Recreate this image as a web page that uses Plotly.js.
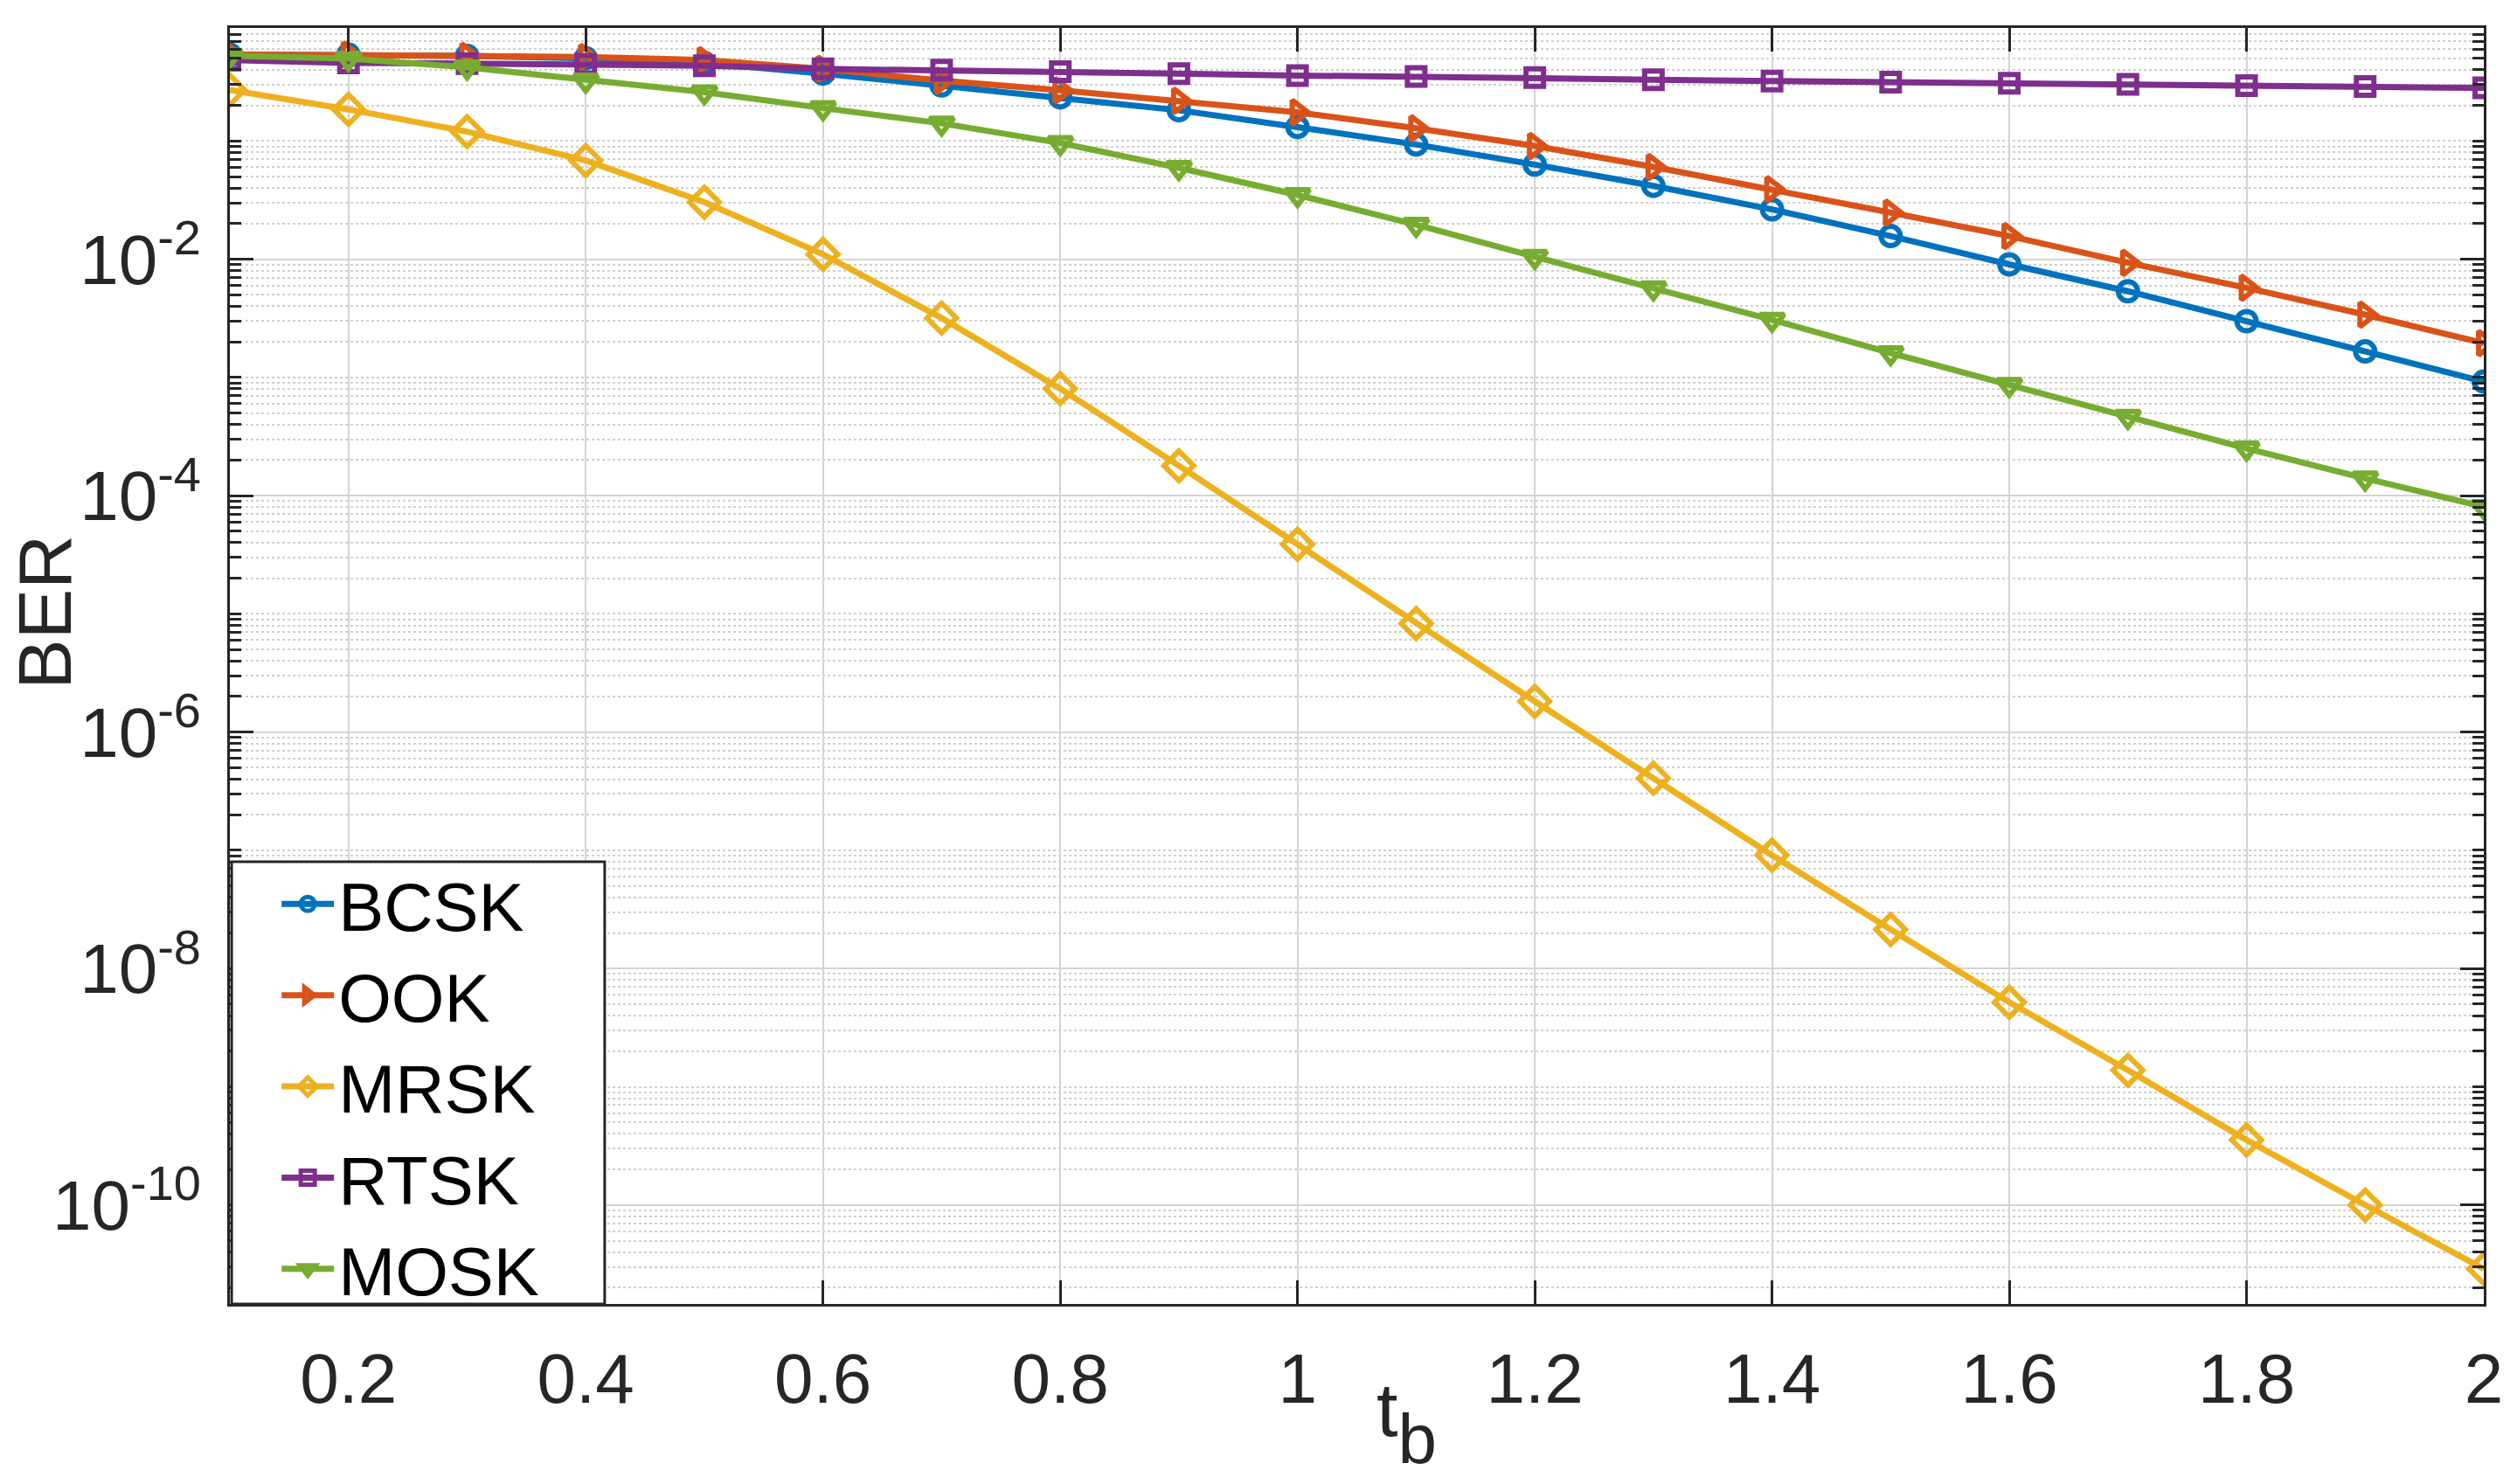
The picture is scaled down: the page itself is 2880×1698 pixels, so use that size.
<!DOCTYPE html>
<html>
<head>
<meta charset="utf-8">
<script src="https://cdn.plot.ly/plotly-3.0.1.min.js"></script>
<style>html,body{margin:0;padding:0;background:#fff;}#chart{width:2880px;height:1698px;}</style>
</head>
<body>
<div id="chart"></div>
<script>
// ---- data ----
const tb = [0.1,0.2,0.3,0.4,0.5,0.6,0.7,0.8,0.9,1.0,1.1,1.2,1.3,1.4,1.5,1.6,1.7,1.8,1.9,2.0];
const bcsk = [0.537,0.537,0.525,0.501,0.457,0.372,0.295,0.234,0.182,0.131,0.0933,0.0631,0.0417,0.0264,0.0157,0.00904,0.00536,0.00299,0.00166,0.000923];
const ook  = [0.537,0.537,0.525,0.513,0.484,0.407,0.324,0.269,0.219,0.175,0.128,0.0908,0.0603,0.0391,0.0248,0.0157,0.00933,0.00573,0.0034,0.00195];
const mrsk = [0.27,0.185,0.12,0.0684,0.0304,0.011,0.00318,8.04e-4,1.79e-4,3.88e-5,8.28e-6,1.82e-6,4.07e-7,9.1e-8,2.14e-8,5.19e-9,1.38e-9,3.55e-10,1.0e-10,2.88e-11];
const rtsk = [0.484,0.457,0.452,0.445,0.433,0.407,0.398,0.385,0.371,0.358,0.351,0.344,0.33,0.321,0.314,0.308,0.301,0.294,0.289,0.281];
const mosk = [0.527,0.498,0.42,0.325,0.259,0.19,0.141,0.0962,0.0593,0.035,0.0196,0.0105,0.00569,0.00308,0.00161,8.67e-4,4.66e-4,2.51e-4,1.4e-4,8.04e-5];

const seriesNames = ['BCSK','OOK','MRSK','RTSK','MOSK'];
const yTickVals = [1e-10,1e-8,1e-6,1e-4,1e-2];
const yTickText = ['10<sup>-10</sup>','10<sup>-8</sup>','10<sup>-6</sup>','10<sup>-4</sup>','10<sup>-2</sup>'];

// ---- styling ----
const colors = ['#0072BD','#D95319','#EDB120','#7E2F8E','#77AC30'];
const symbols = ['circle-open','triangle-right-open','diamond-open','square-open','triangle-down-open'];
const sizes = [22,24,26,20,24];
const ys = [bcsk, ook, mrsk, rtsk, mosk];

// minor tick positions on the log axis (axis decoration only)
const minorVals = [];
for (let e = -11; e <= 0; e++) {
  for (let m = 1; m <= 9; m++) {
    if (m === 1 && e % 2 === 0) continue;
    minorVals.push(m * Math.pow(10, e));
  }
}

const FONT = '"Liberation Sans", Arial, Helvetica, sans-serif';
const traces = ys.map((y, i) => ({
  x: tb, y: y, name: seriesNames[i], type: 'scatter', mode: 'lines+markers',
  line: {color: colors[i], width: 7},
  marker: {symbol: symbols[i], size: sizes[i], color: colors[i], line: {color: colors[i], width: 6}}
}));

const layout = {
  width: 2880, height: 1698,
  paper_bgcolor: '#fff', plot_bgcolor: '#fff',
  margin: {l: 263, r: 38, t: 32, b: 206},
  showlegend: true,
  font: {family: FONT, color: '#262626', size: 80},
  xaxis: {
    range: [0.1, 2], tickmode: 'linear', tick0: 0, dtick: 0.2,
    showgrid: true, gridcolor: '#d4d4d4', gridwidth: 2, zeroline: false,
    showline: true, linecolor: '#262626', linewidth: 3, mirror: 'ticks',
    ticks: 'inside', ticklen: 27, tickwidth: 3, tickcolor: '#262626',
    tickfont: {family: FONT, size: 80, color: '#262626'}, ticklabelstandoff: 14
  },
  yaxis: {
    type: 'log', range: [-10.837, -0.044],
    tickmode: 'array', tickvals: yTickVals, ticktext: yTickText,
    showgrid: true, gridcolor: '#d4d4d4', gridwidth: 2, zeroline: false,
    showline: true, linecolor: '#262626', linewidth: 3, mirror: 'ticks',
    ticks: 'inside', ticklen: 27, tickwidth: 3, tickcolor: '#262626',
    tickfont: {family: FONT, size: 80, color: '#262626'}, ticklabelstandoff: 14,
    minor: {tickmode: 'array', tickvals: minorVals, ticks: 'inside', ticklen: 13, tickwidth: 3,
            tickcolor: '#262626', showgrid: true, gridcolor: '#cfcfcf', gridwidth: 2, griddash: 'dot'}
  },
  legend: {
    x: 0.021, y: 0.1705, xanchor: 'left', yanchor: 'middle', xref: 'paper', yref: 'paper',
    bgcolor: 'rgba(0,0,0,0)', borderwidth: 0,
    font: {family: FONT, size: 78, color: '#000'}, itemwidth: 60, tracegroupgap: 0
  },
  shapes: [
    {type: 'rect', xref: 'paper', yref: 'paper', x0: 0.0008, x1: 0.1663, y0: 0, y1: 0.3466,
     fillcolor: '#fff', line: {color: '#262626', width: 3}, layer: 'above'}
  ],
  annotations: [
    {text: 'BER', xref: 'paper', yref: 'paper', x: -0.0822, y: 0.542, textangle: -90,
     showarrow: false, font: {family: FONT, size: 86, color: '#262626'}, xanchor: 'center', yanchor: 'middle'},
    {text: 't<sub><sub><span style="font-size:80px">b</span></sub></sub>', xref: 'paper', yref: 'paper', x: 0.522, y: -0.047,
     showarrow: false, font: {family: FONT, size: 88, color: '#262626'}, xanchor: 'center', yanchor: 'top'}
  ]
};

Plotly.newPlot('chart', traces, layout, {displayModeBar: false, staticPlot: true});
</script>
</body>
</html>
